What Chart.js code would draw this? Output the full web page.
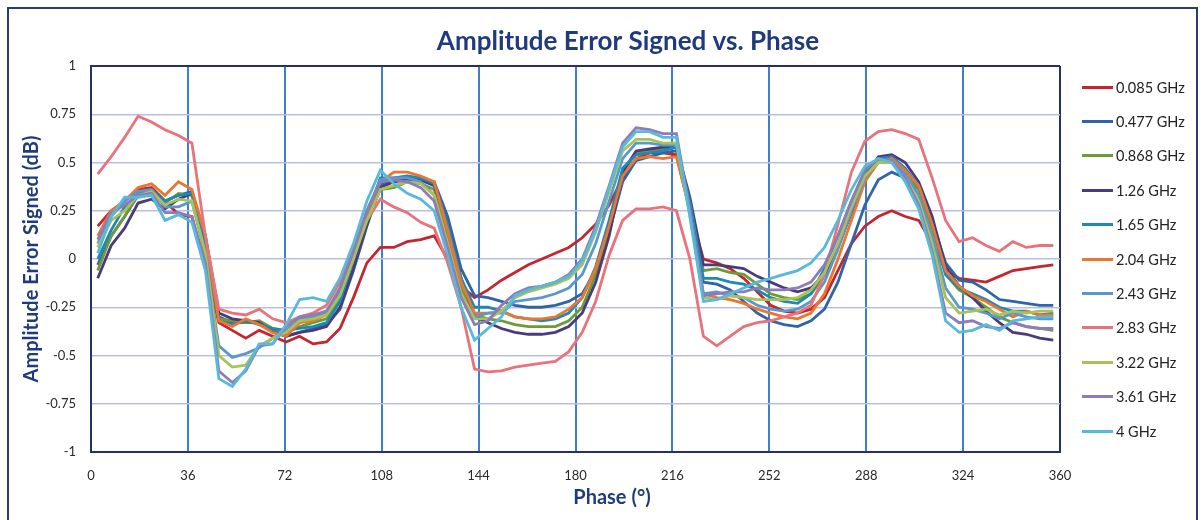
<!DOCTYPE html>
<html><head><meta charset="utf-8">
<script src="https://cdn.jsdelivr.net/npm/chart.js@4.4.1/dist/chart.umd.min.js"></script>
<style>
html,body{margin:0;padding:0;background:#fff;}
#wrap{position:relative;width:1201px;height:520px;overflow:hidden;font-family:Lato,"Open Sans",sans-serif;background:#fff;}
#frame{position:absolute;left:7px;top:7px;width:1191px;height:560px;border:2px solid #2d3b6e;box-sizing:border-box;}
canvas{position:absolute;left:0;top:0;}
#legend{position:absolute;left:1082px;top:0;}
.item{position:absolute;left:0;height:20px;display:flex;align-items:center;white-space:nowrap;font-size:14.5px;color:#222;font-family:Lato,sans-serif;}
.item .l{display:inline-block;width:31px;height:3px;margin-right:3px;}
</style></head>
<body><div id="wrap"><div id="frame"></div><canvas id="c" width="1201" height="520"></canvas><div id="legend"></div></div>
<script>
const chartTitle = 'Amplitude Error Signed vs. Phase';
const xTitle = 'Phase (°)';
const yTitle = 'Amplitude Error Signed (dB)';
const xTicks = [0, 36, 72, 108, 144, 180, 216, 252, 288, 324, 360];
const yTicks = [-1, -0.75, -0.5, -0.25, 0, 0.25, 0.5, 0.75, 1];

const phase = [2.5,7.5,12.5,17.5,22.5,27.5,32.5,37.5,42.5,47.5,52.5,57.5,62.5,67.5,72.5,77.5,82.5,87.5,92.5,97.5,
102.5,107.5,112.5,117.5,122.5,127.5,132.5,137.5,142.5,147.5,152.5,157.5,162.5,167.5,172.5,177.5,182.5,187.5,192.5,197.5,
202.5,207.5,212.5,217.5,222.5,227.5,232.5,237.5,242.5,247.5,252.5,257.5,262.5,267.5,272.5,277.5,282.5,287.5,292.5,297.5,
302.5,307.5,312.5,317.5,322.5,327.5,332.5,337.5,342.5,347.5,352.5,357.5];

const seriesLabels = ['0.085 GHz','0.477 GHz','0.868 GHz','1.26 GHz','1.65 GHz','2.04 GHz','2.43 GHz','2.83 GHz','3.22 GHz','3.61 GHz','4 GHz'];
const seriesColors = ['#c3262f','#2f65a8','#6f9a35','#4a3b7d','#1d8ab5','#ec7630','#5b97cf','#e8737a','#a9c256','#8d7cba','#58bad8'];

const s0085 = [0.17,0.25,0.30,0.36,0.37,0.30,0.23,0.22,
-0.05,-0.33,-0.37,-0.41,-0.37,-0.40,-0.43,-0.40,-0.44,-0.43,
-0.36,-0.20,-0.02,0.06,0.06,0.09,0.10,0.12,0.00,-0.14,
-0.20,-0.16,-0.11,-0.07,-0.03,0.00,0.03,0.06,
0.11,0.18,0.28,0.42,0.52,0.55,0.55,0.54,
0.25,0.00,-0.02,-0.05,-0.10,-0.17,-0.24,-0.27,-0.28,-0.26,
-0.20,-0.06,0.08,0.17,0.22,0.25,0.22,0.20,0.08,-0.06,
-0.10,-0.11,-0.12,-0.09,-0.06,-0.05,-0.04,-0.03];
const s0477 = [-0.03,0.12,0.22,0.33,0.36,0.30,0.33,0.35,
0.10,-0.30,-0.33,-0.33,-0.33,-0.37,-0.40,-0.38,-0.36,-0.34,
-0.26,-0.06,0.17,0.38,0.41,0.42,0.41,0.40,0.22,-0.05,
-0.19,-0.20,-0.22,-0.24,-0.25,-0.25,-0.24,-0.22,
-0.18,-0.06,0.14,0.40,0.51,0.53,0.55,0.56,
0.30,-0.12,-0.13,-0.16,-0.22,-0.28,-0.32,-0.34,-0.35,-0.32,
-0.26,-0.12,0.08,0.28,0.41,0.45,0.42,0.36,0.20,-0.02,
-0.11,-0.12,-0.16,-0.21,-0.22,-0.23,-0.24,-0.24];
const s0868 = [-0.06,0.12,0.22,0.34,0.36,0.29,0.34,0.33,
0.08,-0.31,-0.32,-0.33,-0.32,-0.36,-0.38,-0.35,-0.33,-0.31,
-0.20,-0.02,0.20,0.36,0.37,0.40,0.39,0.36,0.12,-0.15,
-0.29,-0.31,-0.32,-0.34,-0.35,-0.35,-0.35,-0.32,
-0.25,-0.08,0.16,0.45,0.55,0.56,0.57,0.58,
0.30,-0.06,-0.05,-0.07,-0.08,-0.13,-0.18,-0.20,-0.21,-0.18,
-0.09,0.07,0.26,0.42,0.50,0.52,0.46,0.36,0.16,-0.08,
-0.16,-0.20,-0.25,-0.30,-0.33,-0.35,-0.36,-0.37];
const s126 = [-0.10,0.07,0.16,0.29,0.31,0.26,0.31,0.34,
0.12,-0.28,-0.31,-0.32,-0.33,-0.38,-0.40,-0.38,-0.37,-0.35,
-0.25,-0.05,0.18,0.37,0.40,0.41,0.41,0.38,0.18,-0.10,
-0.30,-0.33,-0.36,-0.38,-0.39,-0.39,-0.38,-0.35,
-0.28,-0.12,0.12,0.45,0.56,0.57,0.58,0.58,
0.32,-0.03,-0.03,-0.04,-0.05,-0.09,-0.12,-0.15,-0.17,-0.15,
-0.08,0.06,0.24,0.42,0.53,0.54,0.50,0.40,0.22,-0.04,
-0.14,-0.20,-0.27,-0.33,-0.38,-0.39,-0.41,-0.42];
const s165 = [0.00,0.15,0.27,0.34,0.35,0.30,0.33,0.34,
0.06,-0.32,-0.34,-0.32,-0.34,-0.36,-0.37,-0.36,-0.35,-0.33,
-0.22,0.00,0.22,0.42,0.42,0.43,0.42,0.39,0.18,-0.10,
-0.25,-0.25,-0.27,-0.30,-0.31,-0.32,-0.31,-0.28,
-0.20,-0.04,0.20,0.47,0.54,0.55,0.56,0.58,
0.30,-0.10,-0.10,-0.12,-0.13,-0.16,-0.20,-0.22,-0.23,-0.18,
-0.05,0.12,0.30,0.45,0.52,0.53,0.47,0.38,0.18,-0.08,
-0.15,-0.18,-0.21,-0.25,-0.27,-0.27,-0.29,-0.28];
const s204 = [0.12,0.25,0.30,0.37,0.39,0.33,0.40,0.36,
0.12,-0.32,-0.35,-0.31,-0.34,-0.38,-0.40,-0.33,-0.32,-0.29,
-0.18,0.02,0.24,0.40,0.45,0.45,0.43,0.40,0.15,-0.12,
-0.28,-0.28,-0.27,-0.30,-0.31,-0.31,-0.30,-0.26,
-0.20,-0.05,0.17,0.43,0.52,0.53,0.52,0.53,
0.25,-0.18,-0.20,-0.21,-0.23,-0.26,-0.28,-0.30,-0.31,-0.28,
-0.18,0.00,0.20,0.40,0.50,0.52,0.46,0.38,0.18,-0.06,
-0.14,-0.19,-0.22,-0.26,-0.30,-0.27,-0.29,-0.29];
const s243 = [0.08,0.22,0.30,0.35,0.36,0.27,0.27,0.30,
0.02,-0.45,-0.51,-0.49,-0.46,-0.41,-0.37,-0.31,-0.30,-0.28,
-0.16,0.04,0.25,0.41,0.42,0.42,0.40,0.33,0.08,-0.18,
-0.30,-0.28,-0.28,-0.22,-0.21,-0.20,-0.18,-0.15,
-0.08,0.08,0.30,0.52,0.60,0.60,0.59,0.59,
0.25,-0.18,-0.17,-0.19,-0.20,-0.24,-0.26,-0.27,-0.26,-0.22,
-0.12,0.05,0.25,0.42,0.51,0.51,0.44,0.33,0.12,-0.15,
-0.25,-0.26,-0.28,-0.31,-0.28,-0.30,-0.31,-0.31];
const s283 = [0.44,0.53,0.63,0.74,0.71,0.67,0.64,0.60,
0.12,-0.26,-0.28,-0.29,-0.26,-0.31,-0.33,-0.30,-0.28,-0.24,
-0.12,0.05,0.20,0.31,0.27,0.24,0.19,0.16,-0.02,-0.25,
-0.57,-0.585,-0.58,-0.56,-0.55,-0.54,-0.53,-0.48,
-0.38,-0.22,0.02,0.20,0.26,0.26,0.27,0.25,
0.00,-0.40,-0.45,-0.40,-0.35,-0.33,-0.32,-0.30,-0.28,-0.24,
-0.08,0.18,0.45,0.61,0.66,0.67,0.65,0.62,0.42,0.20,
0.09,0.11,0.07,0.04,0.09,0.06,0.07,0.07];
const s322 = [0.06,0.20,0.25,0.33,0.35,0.28,0.31,0.30,
0.03,-0.50,-0.56,-0.55,-0.45,-0.41,-0.38,-0.32,-0.31,-0.29,
-0.19,0.00,0.20,0.36,0.38,0.40,0.39,0.33,0.08,-0.18,
-0.31,-0.31,-0.27,-0.20,-0.17,-0.15,-0.13,-0.10,
-0.03,0.14,0.35,0.56,0.62,0.62,0.60,0.60,
0.22,-0.20,-0.21,-0.19,-0.20,-0.21,-0.21,-0.21,-0.20,-0.16,
-0.07,0.08,0.27,0.43,0.50,0.50,0.42,0.30,0.08,-0.20,
-0.28,-0.27,-0.26,-0.29,-0.27,-0.28,-0.27,-0.27];
const s361 = [0.10,0.24,0.28,0.33,0.34,0.24,0.24,0.22,
-0.02,-0.58,-0.64,-0.58,-0.45,-0.44,-0.35,-0.30,-0.29,-0.27,
-0.15,0.04,0.25,0.40,0.41,0.40,0.37,0.30,0.06,-0.20,
-0.34,-0.32,-0.24,-0.18,-0.15,-0.14,-0.12,-0.08,
0.00,0.17,0.38,0.60,0.68,0.67,0.65,0.65,
0.25,-0.19,-0.18,-0.17,-0.17,-0.15,-0.16,-0.16,-0.15,-0.12,
-0.03,0.12,0.30,0.46,0.52,0.51,0.42,0.28,0.04,-0.28,
-0.33,-0.32,-0.35,-0.36,-0.33,-0.35,-0.36,-0.36];
const s4 = [0.03,0.22,0.32,0.32,0.33,0.20,0.23,0.19,
-0.06,-0.62,-0.66,-0.57,-0.44,-0.44,-0.34,-0.21,-0.20,-0.22,
-0.10,0.08,0.30,0.46,0.39,0.34,0.31,0.25,0.02,-0.25,
-0.42,-0.36,-0.30,-0.19,-0.16,-0.14,-0.12,-0.09,
-0.01,0.15,0.37,0.58,0.66,0.66,0.63,0.63,
0.22,-0.22,-0.21,-0.18,-0.15,-0.12,-0.10,-0.08,-0.06,-0.02,
0.06,0.20,0.36,0.48,0.52,0.50,0.40,0.26,0.02,-0.32,
-0.38,-0.37,-0.34,-0.37,-0.32,-0.31,-0.30,-0.30];

const seriesValues = [s0085, s0477, s0868, s126, s165, s204, s243, s283, s322, s361, s4];

const navy = '#24306a';
const titleColor = '#1f3a7d';
const n = seriesLabels.length;

const datasets = seriesLabels.map((lab, i) => ({
  label: lab,
  data: phase.map((x, j) => ({x: x, y: seriesValues[i][j]})),
  borderColor: seriesColors[i],
  backgroundColor: seriesColors[i],
  borderWidth: 2.8,
  pointRadius: 0,
  fill: false,
  tension: 0,
  order: n - 1 - i
}));

const titlePlugin = {
  id: 'titles',
  afterDraw(chart) {
    const c = chart.ctx;
    c.save();
    c.fillStyle = titleColor;
    c.textAlign = 'center';
    c.textBaseline = 'middle';
    c.font = 'bold 26px Lato';
    c.fillText(chartTitle, 628, 42);
    c.font = 'bold 20px Lato';
    c.fillText(xTitle, 612, 498);
    c.restore();
  }
};

new Chart(document.getElementById('c'), {
  type: 'line',
  data: {datasets: datasets},
  plugins: [titlePlugin],
  options: {
    responsive: false,
    animation: false,
    devicePixelRatio: 1,
    layout: {padding: {left: 0, right: 141, top: 66, bottom: 0}},
    plugins: {legend: {display: false}, tooltip: {enabled: false}, title: {display: false}},
    scales: {
      x: {
        type: 'linear', min: 0, max: 360,
        afterFit(s) { s.height = 68; },
        afterBuildTicks(s) { s.ticks = xTicks.map(v => ({value: v})); },
        ticks: {padding: 16, color: '#2a2a2a', font: {family: 'Lato', size: 13}, maxRotation: 0},
        grid: {
          drawTicks: false,
          color: ctx => (ctx.tick && (ctx.tick.value === 0 || ctx.tick.value === 360)) ? navy : '#3f7fd2',
          lineWidth: 2
        },
        border: {color: navy, width: 2}
      },
      y: {
        min: -1, max: 1,
        afterFit(s) { s.width = 91; },
        afterBuildTicks(s) { s.ticks = yTicks.map(v => ({value: v})); },
        ticks: {padding: 15, color: '#2a2a2a', font: {family: 'Lato', size: 13}, callback: v => String(v)},
        grid: {
          drawTicks: false,
          color: ctx => (ctx.tick && (ctx.tick.value === 1 || ctx.tick.value === -1)) ? navy : '#b9bde3',
          lineWidth: ctx => (ctx.tick && (ctx.tick.value === 1 || ctx.tick.value === -1)) ? 2 : 1.5
        },
        border: {color: navy, width: 2},
        title: {display: true, text: yTitle, color: titleColor, font: {family: 'Lato', size: 20, weight: 'bold'}, padding: {top: 20, bottom: 0}}
      }
    }
  }
});

const legendEl = document.getElementById('legend');
seriesLabels.forEach((lab, i) => {
  const d = document.createElement('div');
  d.className = 'item';
  d.style.top = (77 + i * 34.4) + 'px';
  const l = document.createElement('span');
  l.className = 'l';
  l.style.background = seriesColors[i];
  d.appendChild(l);
  d.appendChild(document.createTextNode(lab));
  legendEl.appendChild(d);
});
</script>
</body></html>
